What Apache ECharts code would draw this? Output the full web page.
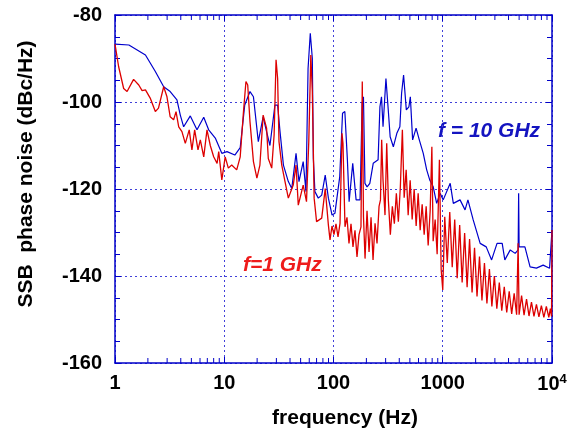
<!DOCTYPE html>
<html>
<head>
<meta charset="utf-8">
<script src="https://cdn.jsdelivr.net/npm/echarts@6/dist/echarts.min.js"></script>
<style>
  html, body { margin: 0; padding: 0; background: #fff; }
  #chart { width: 573px; height: 438px; }
</style>
</head>
<body>
<div id="chart"></div>
<script>
// f = 10 GHz trace
const blueFreq = [1, 1.34, 1.9, 2.34, 2.79, 3.2, 3.69, 3.96, 4.25, 4.89, 5.63, 6.49, 7.2, 8.28, 9.5, 10.6,
  12.5, 14, 15.4, 17.2, 18.5, 20.5, 22.7, 24.4, 26.2, 29.1, 30.8, 32.4, 34.8, 38.6, 41.5, 45.4, 48.3, 52.8,
  56, 58.5, 61.3, 64, 65.4, 67.6, 72.6, 78, 84, 89.8, 97, 103, 114, 121, 127, 134, 139, 150, 161, 175,
  183, 188, 194, 203, 215, 231, 256, 266, 275, 284, 302, 317, 330, 353, 380, 405, 420, 438, 464, 490,
  505, 530, 570, 610, 663, 713, 760, 818, 880, 945, 1010, 1170, 1250, 1440, 1600, 1700, 1900, 2200,
  2500, 2800, 3140, 3500, 3700, 4150, 4600, 4900, 4950, 5000, 5650, 6300, 7200, 8300, 9500, 9900, 10000];
const blueLevel = [-86.7, -86.9, -89.2, -93.0, -96.5, -97.6, -99.5, -103, -105.7, -103.2, -106.4, -103.5,
  -106.4, -108.3, -111.8, -111.4, -112.2, -110.5, -100.7, -97.6, -98.8, -109.1, -103.4, -106.8, -110,
  -100.7, -100.7, -106.8, -114.5, -118.3, -119.9, -111.8, -118.3, -113.7, -120.6, -92.3, -84.2, -90,
  -113, -120.6, -122.1, -121.4, -116.8, -122.1, -126, -125.6, -117.2, -102.6, -102.2, -113.3, -122.9,
  -114.1, -122.5, -122.5, -100.3, -98.8, -118.7, -119.5, -118.7, -114.1, -113.3, -101.1, -98.8, -105.7,
  -94.6, -101.8, -108, -110.3, -107.2, -105.7, -98, -93.8, -101.8, -101.1, -98.8, -108.7, -106, -108.7,
  -111.8, -115.6, -117.9, -119.5, -123.3, -121, -122.5, -118.7, -123.3, -122.5, -124.8, -122.5, -127.1,
  -132.5, -133.3, -136.3, -132.5, -132.5, -136.3, -134, -134.8, -134, -121, -133.3, -133.3, -137.9,
  -138.2, -137.5, -138.2, -138, -129.4];

// f = 1 GHz trace
const redFreq = [1, 1.08, 1.2, 1.29, 1.48, 1.65, 1.77, 1.9, 2.1, 2.34, 2.5, 2.79, 2.99, 3.2, 3.44, 3.62,
  3.83, 4.1, 4.4, 4.78, 5.06, 5.36, 5.75, 6.04, 6.49, 6.95, 7.45, 8, 8.6, 8.9, 9.5, 10.2, 10.9, 11.7, 13,
  14, 15, 15.8, 16.4, 17.2, 18.5, 19.9, 21.2, 22.7, 24.4, 25.3, 27.2, 28.6, 29.8, 30.8, 31.7, 33.6, 36,
  38.6, 42.8, 45.4, 47.6, 52.8, 56.6, 59.4, 62, 64, 66.5, 70, 78, 84, 89.8,
  92.9, 96.9, 101, 105.4, 110, 114.7, 119.6, 122.1, 127.4, 132.9, 138.6, 144.6, 150.8, 157.3, 164.1,
  171.2, 178.5, 183.4, 188.1, 194.4, 202.7, 211.5, 220.6, 230.1, 240, 250.3, 261.1, 269.1, 276, 284,
  296.1, 307, 317.7, 331.4, 345.7, 360.6, 376.1, 392.3, 409.2, 427, 443.4, 462.5, 482.4, 503.2, 524.9,
  547.5, 571, 595.6, 621.3, 648, 675.9, 705, 735.4, 767.1, 795, 816.8, 852, 888.7, 932, 967,
  1000, 1043, 1100, 1159, 1221, 1287, 1356, 1429, 1505, 1586, 1671, 1760, 1855, 1954, 2059, 2169, 2285,
  2408, 2537, 2673, 2816, 2967, 3126, 3293, 3470, 3656, 3851, 4058, 4275, 4504, 4745, 4897, 4999, 5267,
  5549, 5846, 6159, 6489, 6837, 7203, 7589, 7995, 8423, 8875, 9350, 9660, 9900, 10000];
const redLevel = [-86.7, -91.9, -96.9, -97.6, -94.8, -96.1, -97.4, -97.2, -99.1, -102.2, -101.4, -96.5,
  -98.8, -103.4, -104.1, -102.2, -105.7, -106.8, -109.5, -106.4, -111, -106.4, -111, -108.7, -112.6,
  -106.4, -110, -112.6, -114.1, -111.4, -117.9, -112.6, -115.2, -114.5, -115.6, -112.6, -102.2, -95.3,
  -96.1, -104.5, -113.7, -117.5, -114.5, -103, -106, -113, -115.2, -107.6, -90.3, -94.6, -109.1, -114.5,
  -118.3, -122.1, -119.1, -114.5, -123.7, -119.1, -122.9, -109.1, -89.2, -97.6, -122.1, -127.5, -126.7,
  -119.9, -128.3,
  -131.7, -128.5, -130.5, -128, -131, -127.9, -107.2, -109.5, -128.7, -126.5, -132.5, -128, -133.3,
  -129.5, -135.6, -130.5, -128.7, -95.3, -126.4, -136, -125, -134.5, -126.5, -136.3, -127.9, -132.5,
  -124, -122.5, -108.7, -117.9, -126, -109.5, -122.5, -130.5, -124, -128, -121, -127.5, -119.5, -106.4,
  -122, -115.6, -126, -118, -127, -120, -128.5, -121, -129.5, -123.5, -130.5, -124, -133, -125, -110.3,
  -132, -127, -135, -113.3, -138.5,
  -143.2, -126.4, -137, -125.3, -138, -127, -140.5, -128.3, -141.5, -130.1, -142.6, -131.5, -143.8,
  -133.5, -144.7, -135.5, -145.6, -137, -146.3, -138.4, -147, -140, -147.5, -141.5, -148, -142.5, -148.4,
  -143.5, -148.7, -144, -148.9, -132.5, -148.9, -144.5, -149, -145.3, -149.2, -146, -149.3, -146.5,
  -149.4, -146.8, -149.5, -147, -149.5, -147.5, -149.3, -129.4];

const xTicks = [1, 10, 100, 1000, 10000];
const minorMantissa = [2, 3, 4, 5, 6, 7, 8, 9];
const yMin = -160, yMax = -80, yStep = 20;

const axisBlue = '#0000c8';
const gridBlue = '#4040d8';
const font = '"Liberation Sans", Arial, sans-serif';

const zip = (a, b) => a.map((v, i) => [v, b[i]]);

// log-spaced minor tick positions, one per mantissa per decade
const minorFreqs = [];
xTicks.slice(0, -1).forEach(d => minorMantissa.forEach(m => minorFreqs.push([d * m])));

const chart = echarts.init(document.getElementById('chart'));

const xCommon = {
  type: 'log', logBase: 10, min: xTicks[0], max: xTicks[xTicks.length - 1],
  axisLine: { lineStyle: { color: axisBlue, width: 1.5 } },
  axisTick: { inside: true, length: 6, lineStyle: { color: axisBlue } },
  minorTick: { show: false },
  splitLine: { show: false }
};
const yCommon = {
  type: 'value', min: yMin, max: yMax, interval: yStep,
  axisLine: { lineStyle: { color: axisBlue, width: 1.5 } },
  axisTick: { inside: true, length: 6, lineStyle: { color: axisBlue } },
  minorTick: { show: true, splitNumber: 4, length: 5, lineStyle: { color: axisBlue } },
  splitLine: { show: false }
};

const option = {
  animation: false,
  backgroundColor: '#fff',
  grid: { left: 115, right: 21, top: 15, bottom: 75 },
  xAxis: [
    Object.assign({}, xCommon, {
      position: 'bottom',
      splitLine: { show: true, lineStyle: { color: gridBlue, type: [2, 3], width: 1 } },
      axisLabel: {
        margin: 10, color: '#000', fontFamily: font, fontWeight: 'bold', fontSize: 20,
        formatter: v => v === 10000 ? '{b|10}{s|4}' : String(v),
        rich: {
          b: { fontFamily: font, fontWeight: 'bold', fontSize: 20, color: '#000' },
          s: { fontFamily: font, fontWeight: 'bold', fontSize: 13, color: '#000', verticalAlign: 'top', padding: [0, 0, 10, 0] }
        }
      }
    }),
    Object.assign({}, xCommon, { position: 'top', axisLabel: { show: false } })
  ],
  yAxis: [
    Object.assign({}, yCommon, {
      position: 'left',
      splitLine: { show: true, lineStyle: { color: gridBlue, type: [2, 3], width: 1 } },
      axisLabel: { margin: 13, color: '#000', fontFamily: font, fontWeight: 'bold', fontSize: 20 }
    }),
    Object.assign({}, yCommon, { position: 'right', axisLabel: { show: false } })
  ],
  graphic: [
    { type: 'text', x: 26, y: 174, rotation: Math.PI / 2,
      style: { text: 'SSB  phase noise (dBc/Hz)', font: 'bold 21px ' + font, fill: '#000', align: 'center', verticalAlign: 'middle' } },
    { type: 'text', x: 345, y: 418,
      style: { text: 'frequency (Hz)', font: 'bold 21px ' + font, fill: '#000', align: 'center', verticalAlign: 'middle' } },
    { type: 'text', x: 438, y: 131,
      style: { text: 'f = 10 GHz', font: 'italic bold 21px ' + font, fill: '#1414c0', align: 'left', verticalAlign: 'middle' } },
    { type: 'text', x: 243, y: 265,
      style: { text: 'f=1 GHz', font: 'italic bold 21px ' + font, fill: '#ee1c1c', align: 'left', verticalAlign: 'middle' } }
  ],
  series: [
    {
      // minor ticks on the log axes (bottom and top)
      type: 'custom', data: minorFreqs, silent: true, clip: false, z: 5,
      renderItem: (params, api) => {
        const b = api.coord([api.value(0), yMin]);
        const t = api.coord([api.value(0), yMax]);
        const st = { stroke: axisBlue, lineWidth: 1 };
        return {
          type: 'group',
          children: [
            { type: 'line', shape: { x1: b[0], y1: b[1], x2: b[0], y2: b[1] - 5 }, style: st },
            { type: 'line', shape: { x1: t[0], y1: t[1], x2: t[0], y2: t[1] + 5 }, style: st }
          ]
        };
      }
    },
    {
      name: 'f = 10 GHz', type: 'line', data: zip(blueFreq, blueLevel),
      showSymbol: false, lineStyle: { color: '#0000cc', width: 1.2 }, z: 2
    },
    {
      name: 'f = 1 GHz', type: 'line', data: zip(redFreq, redLevel),
      showSymbol: false, lineStyle: { color: '#dd0000', width: 1.3 }, z: 3
    }
  ]
};

option && chart.setOption(option);
</script>
</body>
</html>
